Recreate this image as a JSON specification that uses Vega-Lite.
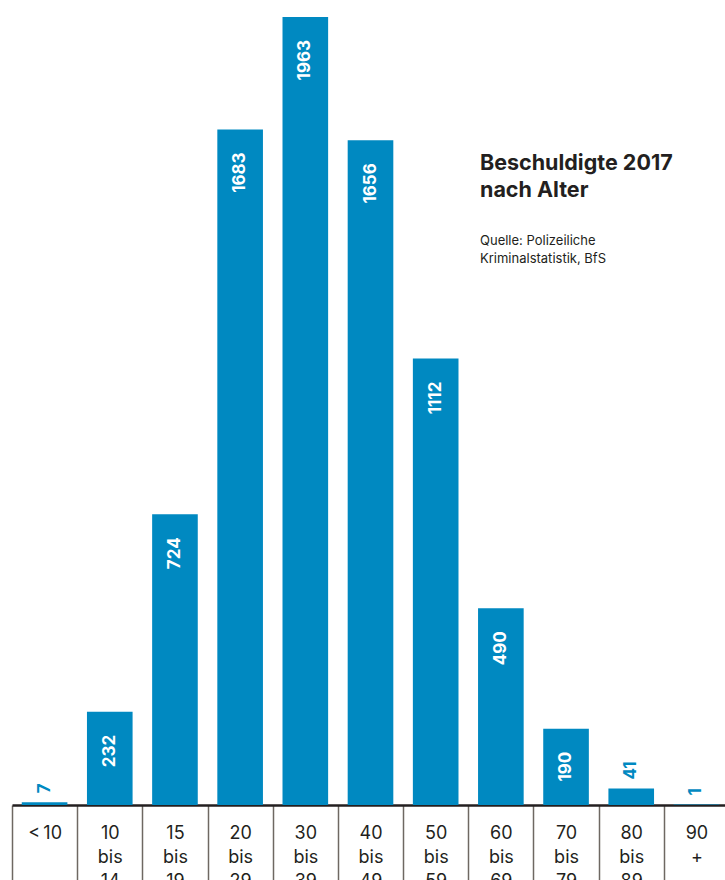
{
  "$schema": "https://vega.github.io/schema/vega-lite/v6.json",
  "autosize": "none",
  "width": 717,
  "height": 788,
  "padding": {"left": 12, "top": 17, "right": 0, "bottom": 75},
  "background": "white",
  "config": {"view": {"stroke": null}, "font": "Inter"},
  "title": {
    "text": ["Beschuldigte 2017", "nach Alter"],
    "subtitle": ["Quelle: Polizeiliche", "Kriminalstatistik, BfS"],
    "anchor": "start",
    "frame": "group",
    "orient": "top",
    "dx": 468,
    "dy": 253,
    "font": "Inter",
    "fontSize": 21.5,
    "fontWeight": "bold",
    "color": "#231f20",
    "lineHeight": 27,
    "subtitleFont": "Inter",
    "subtitleFontSize": 13,
    "subtitleColor": "#231f20",
    "subtitleLineHeight": 18,
    "subtitlePadding": 34
  },
  "data": {
    "values": [
      {"age": "<\u200910", "n": 7},
      {"age": "10 bis 14", "n": 232},
      {"age": "15 bis 19", "n": 724},
      {"age": "20 bis 29", "n": 1683},
      {"age": "30 bis 39", "n": 1963},
      {"age": "40 bis 49", "n": 1656},
      {"age": "50 bis 59", "n": 1112},
      {"age": "60 bis 69", "n": 490},
      {"age": "70 bis 79", "n": 190},
      {"age": "80 bis 89", "n": 41},
      {"age": "90 +", "n": 1}
    ]
  },
  "encoding": {
    "x": {
      "field": "age",
      "type": "nominal",
      "sort": null,
      "scale": {"paddingInner": 0, "paddingOuter": 0},
      "axis": {
        "title": null,
        "labelAngle": 0,
        "labelExpr": "isValid(datum.value) ? split(datum.value, ' ') : ''",
        "labelFont": "Inter",
        "labelFontSize": 18,
        "labelLineHeight": 24,
        "labelColor": "#231f20",
        "labelPadding": -61,
        "labelBaseline": "top",
        "tickBand": "extent",
        "tickSize": 80,
        "tickWidth": 1.5,
        "tickColor": "#6e6862",
        "domainColor": "#231f20",
        "domainWidth": 2.5,
        "grid": false
      }
    },
    "y": {
      "field": "n",
      "type": "quantitative",
      "scale": {"domain": [0, 1963], "nice": false, "zero": true},
      "axis": null
    }
  },
  "layer": [
    {"mark": {"type": "bar", "color": "#0089c1", "width": {"band": 0.7}}},
    {
      "transform": [{"filter": "datum.n > 100"}],
      "mark": {"type": "text", "angle": 270, "align": "right", "baseline": "middle", "dx": -23, "fontSize": 17, "fontWeight": "bold", "color": "white", "font": "Inter"},
      "encoding": {"text": {"field": "n", "type": "quantitative"}}
    },
    {
      "transform": [{"filter": "datum.n <= 100"}],
      "mark": {"type": "text", "angle": 270, "align": "left", "baseline": "middle", "dx": 9, "fontSize": 17, "fontWeight": "bold", "color": "#0089c1", "font": "Inter"},
      "encoding": {"text": {"field": "n", "type": "quantitative"}}
    }
  ]
}
